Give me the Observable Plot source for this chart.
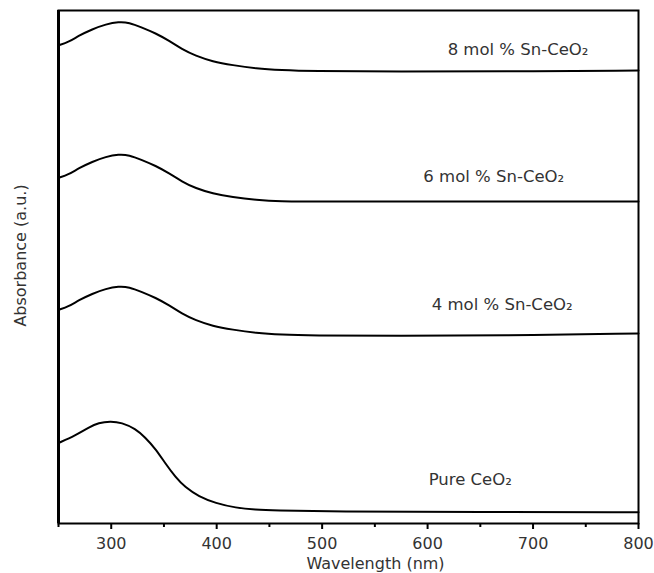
<!DOCTYPE html>
<html>
<head>
<meta charset="utf-8">
<script src="https://cdn.jsdelivr.net/npm/d3@7"></script>
<script src="https://cdn.jsdelivr.net/npm/@observablehq/plot@0.6"></script>
<style>
  html, body { margin: 0; padding: 0; background: #fff; }
</style>
</head>
<body>
<div id="chart"></div>
<script>
// ---- data (absorbance in arbitrary units, curves stacked with offsets) ----
const seriesNames = ["8 mol % Sn-CeO₂", "6 mol % Sn-CeO₂", "4 mol % Sn-CeO₂", "Pure CeO₂"];

const wlSn = [250, 260, 269, 282, 295, 307, 317, 329, 342, 355, 367, 380, 396, 415, 437, 462, 487, 574, 669, 800];
const ab8  = [4.781, 4.817, 4.877, 4.943, 4.993, 5.017, 5.010, 4.960, 4.903, 4.827, 4.743, 4.677, 4.620, 4.583, 4.550, 4.533, 4.523, 4.520, 4.520, 4.530];
const ab6  = [3.456, 3.492, 3.552, 3.618, 3.668, 3.692, 3.685, 3.635, 3.578, 3.502, 3.420, 3.352, 3.300, 3.263, 3.235, 3.220, 3.220, 3.220, 3.220, 3.220];
const ab4  = [2.136, 2.172, 2.232, 2.298, 2.348, 2.372, 2.365, 2.315, 2.258, 2.182, 2.098, 2.032, 1.975, 1.938, 1.905, 1.888, 1.880, 1.875, 1.880, 1.900];

const wlPure = [250, 266, 279, 288, 299, 310, 323, 332, 342, 351.5, 361, 370, 383, 399, 418, 437, 454, 508, 650, 800];
const abPure = [0.805, 0.880, 0.963, 1.007, 1.023, 1.010, 0.947, 0.863, 0.747, 0.597, 0.463, 0.363, 0.270, 0.203, 0.157, 0.137, 0.130, 0.120, 0.115, 0.113];

// label anchor positions (wavelength, absorbance)
const labelWl = [619, 596, 604, 601];
const labelAb = [4.74, 3.47, 2.19, 0.44];

const majorTicks = [300, 400, 500, 600, 700, 800];
const minorTicks = [250, 350, 450, 550, 650, 750];
const xLabel = "Wavelength (nm)";
const yLabel = "Absorbance (a.u.)";

// ---- build table ----
const wls = [wlSn, wlSn, wlSn, wlPure];
const abs = [ab8, ab6, ab4, abPure];
const rows = [];
seriesNames.forEach((name, i) => {
  wls[i].forEach((w, j) => rows.push({series: name, wl: w, ab: abs[i][j]}));
});

const chart = Plot.plot({
  width: 654,
  height: 573,
  marginLeft: 58,
  marginRight: 16,
  marginTop: 10,
  marginBottom: 50,
  x: {domain: [250, 800]},
  y: {domain: [0, 5.13], axis: null},
  style: {fontFamily: "DejaVu Sans", fontSize: "16px", color: "#333", background: "#fff"},
  marks: [
    Plot.line(rows, {x: "wl", y: "ab", z: "series", curve: "basis", stroke: "#000", strokeWidth: 2}),
    Plot.frame({stroke: "#000", strokeWidth: 2}),
    Plot.ruleX([250], {stroke: "#000", strokeWidth: 3}),
    Plot.axisX({ticks: majorTicks, tickSize: 6, tickPadding: 8, strokeWidth: 2, stroke: "#000", label: null, tickFormat: d => String(d), fontSize: 16, fill: "#333"}),
    Plot.axisX({ticks: minorTicks, tickSize: 4, strokeWidth: 2, stroke: "#000", label: null, tickFormat: () => ""}),
    Plot.text(seriesNames, {x: labelWl, y: labelAb, text: d => d, textAnchor: "start", lineAnchor: "middle", fontSize: 16.5, fill: "#333"}),
    Plot.text([xLabel], {frameAnchor: "bottom", text: d => d, textAnchor: "middle", lineAnchor: "middle", dx: 27, dy: 40, fontSize: 16, fill: "#333"}),
    Plot.text([yLabel], {frameAnchor: "left", y: [2.68], text: d => d, rotate: -90, textAnchor: "middle", lineAnchor: "middle", dx: -38, fontSize: 16, fill: "#333"})
  ]
});
document.getElementById("chart").appendChild(chart);
</script>
</body>
</html>
